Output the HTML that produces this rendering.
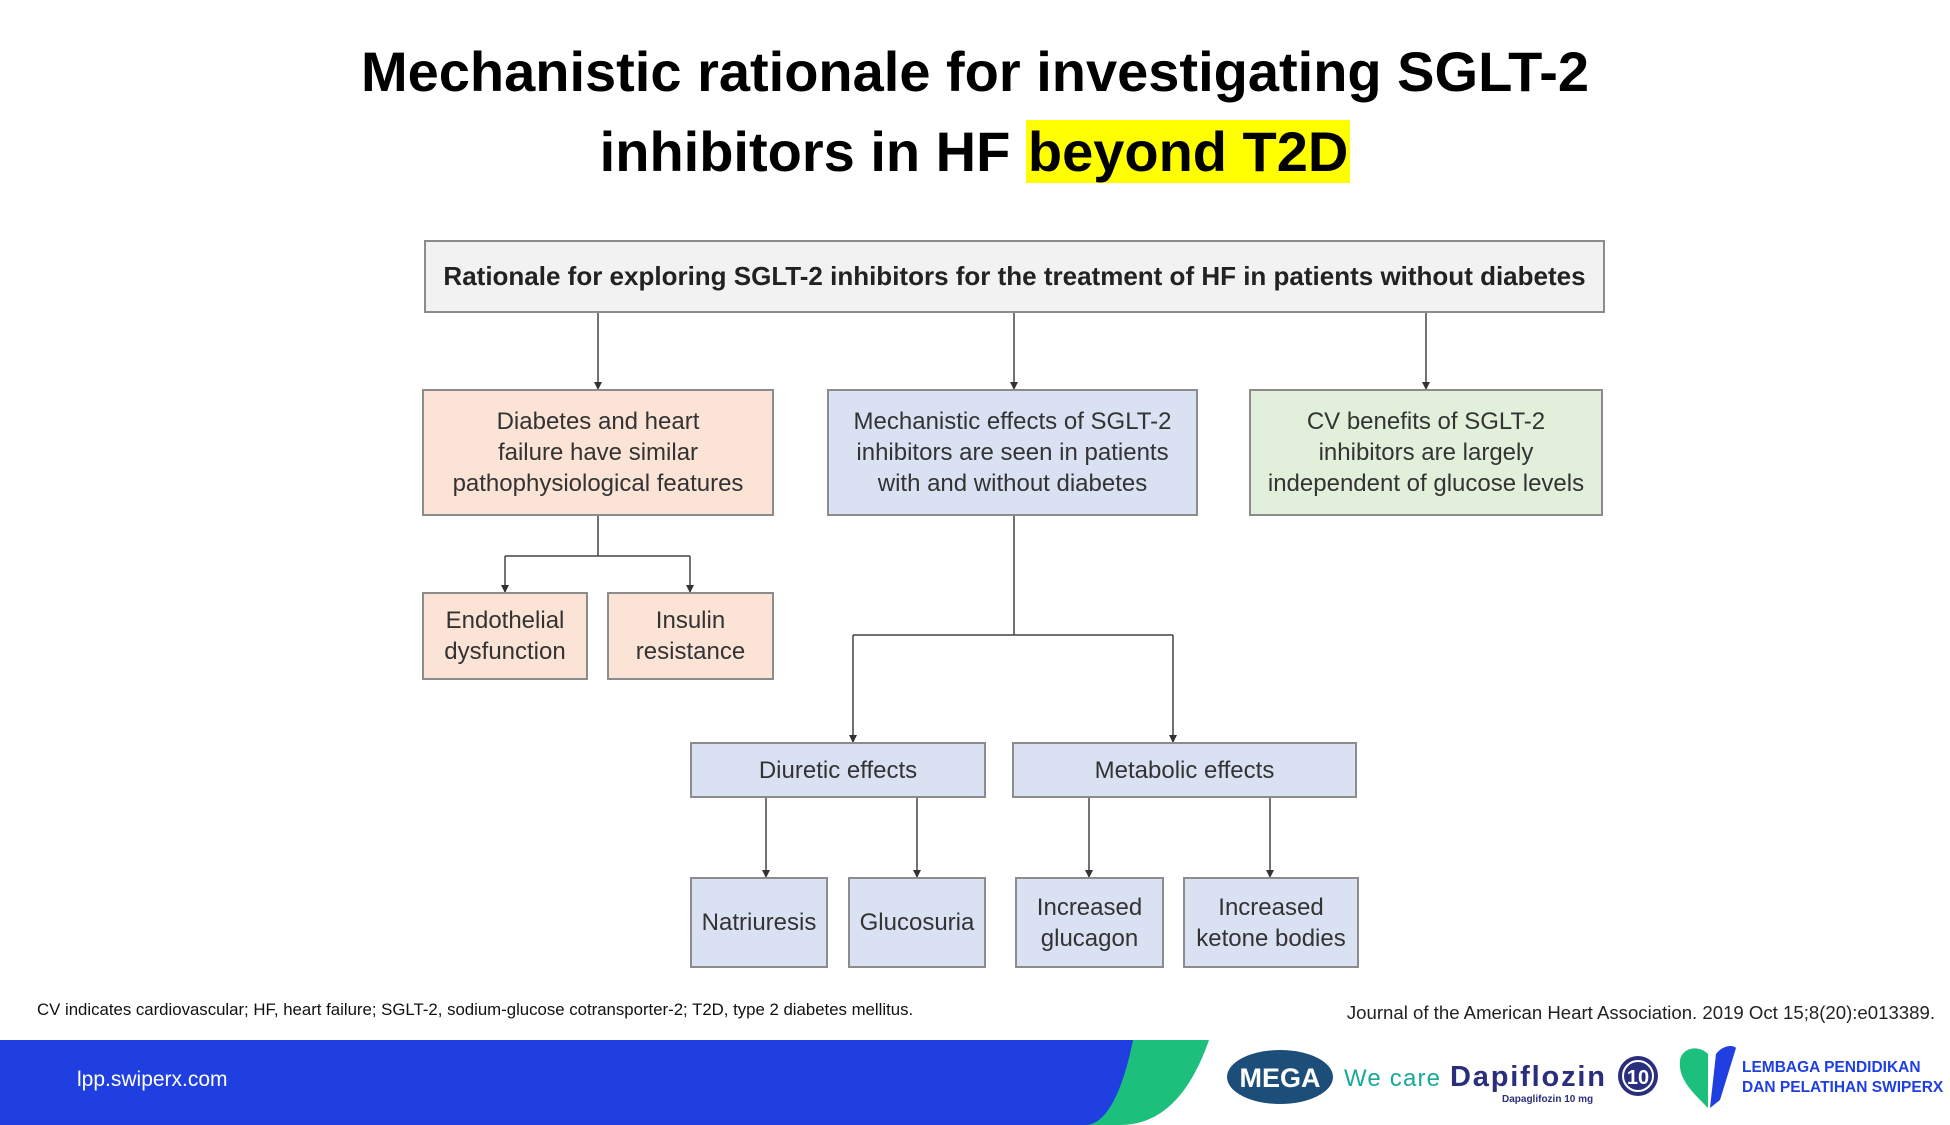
<!DOCTYPE html>
<html><head><meta charset="utf-8"><style>
*{margin:0;padding:0;box-sizing:border-box}
body{width:1950px;height:1125px;background:#fff;position:relative;overflow:hidden;font-family:"Liberation Sans",sans-serif}
.t{position:absolute;left:0;width:1950px;text-align:center;font-weight:bold;font-size:56px;color:#000}
.b{position:absolute;border:2px solid #8c8c8c;display:flex;align-items:center;justify-content:center;text-align:center;font-size:24px;line-height:31px;color:#333}
.p{background:#fbe3d6}.bl{background:#d9e1f2}.g{background:#e2efda}
</style></head><body>
<div class="t" style="top:38px;line-height:68px">Mechanistic rationale for investigating SGLT-2</div>
<div class="t" style="top:118px;line-height:68px">inhibitors in HF <span style="background:#ffff00;padding:0 2px">beyond T2D</span></div>

<svg style="position:absolute;left:0;top:0" width="1950" height="1125">
<defs><marker id="a" markerWidth="8" markerHeight="8" refX="7" refY="4" orient="auto" markerUnits="userSpaceOnUse"><path d="M0,0L8,4L0,8z" fill="#333"/></marker></defs>
<g stroke="#444" stroke-width="1.5" fill="none">
<path d="M598 313V389" marker-end="url(#a)"/>
<path d="M1014 313V389" marker-end="url(#a)"/>
<path d="M1426 313V389" marker-end="url(#a)"/>
<path d="M598 516V556M505 556H690"/>
<path d="M505 556V592" marker-end="url(#a)"/>
<path d="M690 556V592" marker-end="url(#a)"/>
<path d="M1014 516V635M853 635H1173"/>
<path d="M853 635V742" marker-end="url(#a)"/>
<path d="M1173 635V742" marker-end="url(#a)"/>
<path d="M766 798V877" marker-end="url(#a)"/>
<path d="M917 798V877" marker-end="url(#a)"/>
<path d="M1089 798V877" marker-end="url(#a)"/>
<path d="M1270 798V877" marker-end="url(#a)"/>
</g></svg>

<div class="b" style="left:424px;top:240px;width:1181px;height:73px;background:#f2f2f2;font-weight:bold;font-size:26px;color:#222">Rationale for exploring SGLT-2 inhibitors for the treatment of HF in patients without diabetes</div>
<div class="b p" style="left:422px;top:389px;width:352px;height:127px">Diabetes and heart<br>failure have similar<br>pathophysiological features</div>
<div class="b bl" style="left:827px;top:389px;width:371px;height:127px">Mechanistic effects of SGLT-2<br>inhibitors are seen in patients<br>with and without diabetes</div>
<div class="b g" style="left:1249px;top:389px;width:354px;height:127px">CV benefits of SGLT-2<br>inhibitors are largely<br>independent of glucose levels</div>
<div class="b p" style="left:422px;top:592px;width:166px;height:88px">Endothelial<br>dysfunction</div>
<div class="b p" style="left:607px;top:592px;width:167px;height:88px">Insulin<br>resistance</div>
<div class="b bl" style="left:690px;top:742px;width:296px;height:56px">Diuretic effects</div>
<div class="b bl" style="left:1012px;top:742px;width:345px;height:56px">Metabolic effects</div>
<div class="b bl" style="left:690px;top:877px;width:138px;height:91px">Natriuresis</div>
<div class="b bl" style="left:848px;top:877px;width:138px;height:91px">Glucosuria</div>
<div class="b bl" style="left:1015px;top:877px;width:149px;height:91px">Increased<br>glucagon</div>
<div class="b bl" style="left:1183px;top:877px;width:176px;height:91px">Increased<br>ketone bodies</div>

<div style="position:absolute;left:37px;top:1000px;font-size:16.8px;color:#111">CV indicates cardiovascular; HF, heart failure; SGLT-2, sodium-glucose cotransporter-2; T2D, type 2 diabetes mellitus.</div>
<div style="position:absolute;right:15px;top:1002px;font-size:18.6px;color:#222">Journal of the American Heart Association. 2019 Oct 15;8(20):e013389.</div>

<svg style="position:absolute;left:0;top:1040px" width="1950" height="85">
<path d="M0 0H1209V0C1195 40 1170 85 1120 85H0Z" fill="#1dbf7d"/>
<path d="M0 0H1133C1125 40 1110 85 1085 85H0Z" fill="#1f3fe0"/>
<ellipse cx="1280" cy="37" rx="53" ry="27" fill="#1d4e7a"/>
<text x="1280" y="47" text-anchor="middle" font-family="Liberation Sans" font-weight="bold" font-size="27" fill="#fff">MEGA</text>
<text x="1344" y="46" font-family="Liberation Sans" font-size="24" fill="#18a99a" textLength="96">We care</text>
<text x="1450" y="46" font-family="Liberation Sans" font-weight="bold" font-size="29" fill="#2b2e7c" textLength="155">Dapiflozin</text>
<text x="1502" y="62" font-family="Liberation Sans" font-weight="bold" font-size="10" fill="#2b2e7c">Dapaglifozin 10 mg</text>
<circle cx="1638" cy="36" r="20" fill="#2b2e7c"/><circle cx="1638" cy="36" r="15" fill="none" stroke="#fff" stroke-width="2"/>
<text x="1638" y="44" text-anchor="middle" font-family="Liberation Sans" font-weight="bold" font-size="20" fill="#fff">10</text>
<path d="M1708 68C1690 50 1678 38 1680 20C1682 8 1698 4 1708 14Z" fill="#1dbf7d"/>
<path d="M1710 68L1716 14C1722 6 1732 4 1736 8L1720 60Z" fill="#1f3fe0"/>
<text x="1742" y="32" font-family="Liberation Sans" font-weight="bold" font-size="15.5" fill="#1f3fe0">LEMBAGA PENDIDIKAN</text>
<text x="1742" y="52" font-family="Liberation Sans" font-weight="bold" font-size="15.5" fill="#1f3fe0">DAN PELATIHAN SWIPERX</text>
</svg>
<div style="position:absolute;left:77px;top:1068px;font-size:21px;color:#fff">lpp.swiperx.com</div>
</body></html>
